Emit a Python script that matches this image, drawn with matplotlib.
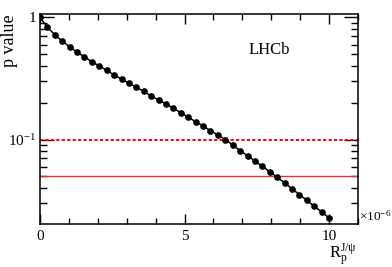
import numpy as np
import matplotlib
matplotlib.use("Agg")
import matplotlib.pyplot as plt
from matplotlib.ticker import FixedLocator, NullFormatter, LogLocator, MultipleLocator

plt.rcParams['font.family'] = ['Liberation Serif', 'DejaVu Serif']
plt.rcParams['mathtext.fontset'] = 'custom'
plt.rcParams['mathtext.rm'] = 'Liberation Serif'
plt.rcParams['mathtext.it'] = 'Liberation Serif:italic'

# scan points of R_p^{J/psi} (x 1e-6) and p values
r_scan = np.linspace(0, 10, 40)
p_values = [1.0, 0.831, 0.723, 0.638, 0.576, 0.519, 0.475, 0.434, 0.400, 0.369,
            0.338, 0.313, 0.289, 0.268, 0.248, 0.227, 0.211, 0.195, 0.180, 0.166,
            0.152, 0.140, 0.129, 0.118, 0.109, 0.100, 0.0902, 0.0810, 0.0736, 0.0666,
            0.0603, 0.0544, 0.0489, 0.0442, 0.0395, 0.0353, 0.0318, 0.0283, 0.0255, 0.0228]
cl90 = 0.1
cl95 = 0.05

fig = plt.figure(figsize=(3.92, 2.67), dpi=100)
ax = fig.add_axes([40/392, 1-224/267, 318/392, 210/267])

ax.plot(r_scan, p_values, color='black', lw=1.1, marker='o', ms=3.8, zorder=3)
ax.axhline(cl90, color='red', lw=1.4, ls=(0, (1.6, 1.2)))
ax.axhline(cl95, color='#e8302a', lw=1.0)

ax.set_yscale('log')
ax.set_xlim(0, 11)
ax.set_ylim(0.0203, 1.068)

ax.xaxis.set_major_locator(FixedLocator([0, 5, 10]))
ax.xaxis.set_minor_locator(MultipleLocator(1))
ax.yaxis.set_major_locator(FixedLocator([0.1, 1]))
ax.set_yticklabels(['$10^{-1}$', '1'])
ax.yaxis.set_minor_locator(LogLocator(base=10, subs=np.arange(2, 10)))
ax.yaxis.set_minor_formatter(NullFormatter())

ax.tick_params(which='both', direction='in', top=True, right=True, labelsize=11, width=1)
ax.tick_params(axis='x', which='major', length=7, pad=4)
ax.tick_params(axis='x', which='minor', length=4)
ax.tick_params(axis='y', which='major', length=10, pad=3)
ax.tick_params(axis='y', which='minor', length=5)
for s in ax.spines.values():
    s.set_linewidth(1.1)

ax.text(0.72, 0.83, 'LHCb', transform=ax.transAxes, fontsize=12, ha='center', va='center')
fig.text(10/392, 1-14/267, 'p value', rotation=90, fontsize=13, ha='center', va='top')
fig.text(359/392, 1-216/267, r'$\times10^{-6}$', fontsize=9.5, ha='left', va='center')
fig.text(343/392, 1-254/267, r'R$_{\rm p}^{\rm J/\psi}$', fontsize=12, ha='center', va='center')

fig.savefig('out.png', dpi=100)
